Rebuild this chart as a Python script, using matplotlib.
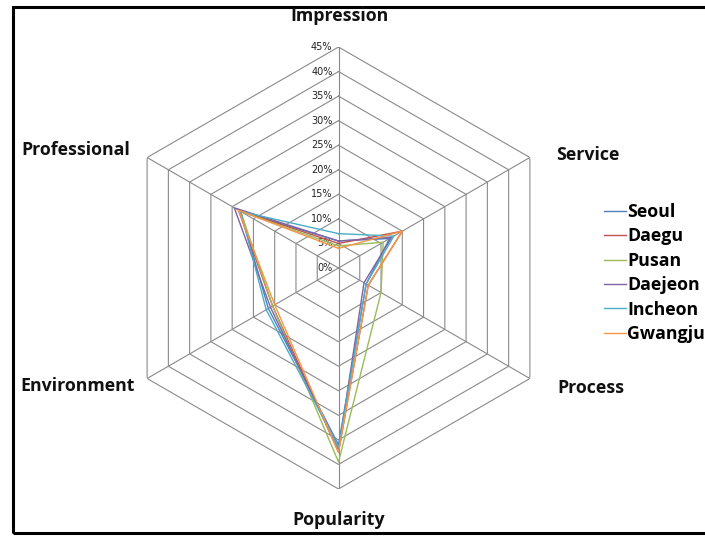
import numpy as np
import matplotlib
matplotlib.use('Agg')
import matplotlib.pyplot as plt
from matplotlib.patches import Rectangle
from matplotlib.transforms import offset_copy

# axis names, clockwise from the top
categories = ['Impression', 'Service', 'Process', 'Popularity', 'Environment', 'Professional']
cities = ['Seoul', 'Daegu', 'Pusan', 'Daejeon', 'Incheon', 'Gwangju']

# values in %
seoul = [5.5, 12, 6.5, 36, 16.5, 23]
daegu = [5, 15, 7, 37.5, 15.5, 23.5]
pusan = [4.5, 10.5, 10, 39.5, 15.5, 23]
daejeon = [5.5, 12.5, 6, 37, 16, 24.5]
incheon = [7, 13, 6.5, 36.5, 17, 23]
gwangju = [4, 15, 7, 37.5, 15, 23.5]

tick_values = [0, 5, 10, 15, 20, 25, 30, 35, 40, 45]
tick_labels = [str(t) + '%' for t in tick_values]

colors = ['#4F81BD', '#C0504D', '#9BBB59', '#8064A2', '#4BACC6', '#F79646']

W, H = 705, 536
fig = plt.figure(figsize=(W / 100, H / 100), dpi=100)

# center of the radar at (338.5, 268) px, 45% -> 221 px
cx, cy, R = 338.5, 268, 221
ax = fig.add_axes([(cx - R) / W, (H - cy - R) / H, 2 * R / W, 2 * R / H], projection='polar')
ax.set_theta_offset(np.pi / 2)
ax.set_theta_direction(-1)
ax.set_ylim(0, 45)
ax.spines['polar'].set_visible(False)
ax.grid(False)
ax.set_xticks([])
ax.set_yticks([])
ax.patch.set_alpha(0)

theta = np.linspace(0, 2 * np.pi, len(categories), endpoint=False)
theta_closed = np.append(theta, theta[0])

# hexagon grid + spokes
gridcol = '#8a8a8a'
for t in tick_values[1:]:
    ax.plot(theta_closed, [t] * len(theta_closed), color=gridcol, lw=0.8, zorder=1)
for th in theta:
    ax.plot([th, th], [0, 45], color=gridcol, lw=0.8, zorder=1)

# radial tick labels, left of the vertical axis
trans = offset_copy(ax.transData, fig=fig, x=-6, y=0, units='dots')
for t, lab in zip(tick_values, tick_labels):
    ax.text(0, t, lab, transform=trans, ha='right', va='center', fontsize=7, color='#222222')

series = [seoul, daegu, pusan, daejeon, incheon, gwangju]
for name, vals, c in zip(cities, series, colors):
    ax.plot(theta_closed, vals + vals[:1], color=c, lw=1.0, label=name, zorder=3)

# category labels
lab_pos = {'Impression': (339, 16), 'Service': (588, 155), 'Process': (591, 388),
           'Popularity': (339, 520), 'Environment': (78, 386), 'Professional': (76, 150)}
for cat in categories:
    px, py = lab_pos[cat]
    fig.text(px / W, 1 - py / H, cat, ha='center', va='center', fontsize=12.8,
             fontweight='bold', family='Open Sans', color='#111111')

# legend on the right
leg = fig.legend(loc='upper left', bbox_to_anchor=(604 / W, 1 - 203 / H), frameon=False,
                 handlelength=1.22, handletextpad=0.1, labelspacing=0.36,
                 prop={'family': 'Open Sans', 'weight': 'bold', 'size': 12.8},
                 borderaxespad=0, borderpad=0)

# black frame around the chart
fig.add_artist(Rectangle((13 / W, 1 - 533 / H), 720 / W, 526 / H, transform=fig.transFigure,
                         fill=False, edgecolor='black', lw=2.2, clip_on=False))

fig.savefig('out.png', dpi=100)
